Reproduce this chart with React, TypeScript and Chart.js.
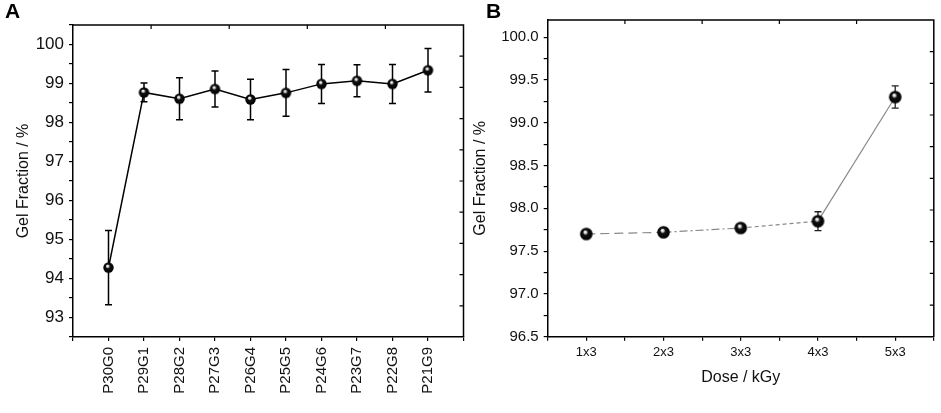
import React, { useEffect, useRef } from 'react';
import { Chart, registerables } from 'chart.js';

Chart.register(...registerables);

// ---------- Data ----------
const catsA = ['P30G0', 'P29G1', 'P28G2', 'P27G3', 'P26G4', 'P25G5', 'P24G6', 'P23G7', 'P22G8', 'P21G9'];
const valsA = [94.28, 98.77, 98.61, 98.86, 98.59, 98.76, 98.99, 99.07, 98.99, 99.34];
const errA = [0.95, 0.24, 0.54, 0.46, 0.52, 0.6, 0.5, 0.41, 0.5, 0.56];

const catsB = ['1x3', '2x3', '3x3', '4x3', '5x3'];
const valsB = [97.7, 97.72, 97.77, 97.85, 99.3];
const errB = [0.02, 0.02, 0.03, 0.11, 0.13];

const yTitle = 'Gel Fraction / %';
const xTitleB = 'Dose / kGy';

const FONT = "'Liberation Sans', Arial, Helvetica, sans-serif";

// segment dash styles for panel B
const dashesB: number[][] = [[9, 5], [8, 3, 2, 3], [4, 3], []];

function makeSphere(r: number): HTMLCanvasElement {
  const c = document.createElement('canvas');
  const s = Math.ceil(r * 2 + 2);
  c.width = s;
  c.height = s;
  const ctx = c.getContext('2d')!;
  const cx = s / 2, cy = s / 2;
  const g = ctx.createRadialGradient(cx - r * 0.2, cy - r * 0.35, r * 0.05, cx, cy, r);
  g.addColorStop(0, '#ffffff');
  g.addColorStop(0.2, '#c8c8c8');
  g.addColorStop(0.38, '#111111');
  g.addColorStop(1, '#000000');
  ctx.fillStyle = g;
  ctx.beginPath();
  ctx.arc(cx, cy, r, 0, Math.PI * 2);
  ctx.fill();
  return c;
}

function errorBars(vals: number[], errs: number[], xOff: number, color: string, width: number, cap: number) {
  return {
    id: 'errbars',
    beforeDatasetsDraw(chart: any) {
      const { ctx, scales } = chart;
      const x = scales.x, y = scales.y;
      ctx.save();
      ctx.strokeStyle = color;
      ctx.lineWidth = width;
      vals.forEach((v, i) => {
        const px = x.getPixelForValue(i + xOff);
        const t = y.getPixelForValue(v + errs[i]);
        const b = y.getPixelForValue(v - errs[i]);
        ctx.beginPath();
        ctx.moveTo(px, t);
        ctx.lineTo(px, b);
        ctx.moveTo(px - cap, t);
        ctx.lineTo(px + cap, t);
        ctx.moveTo(px - cap, b);
        ctx.lineTo(px + cap, b);
        ctx.stroke();
      });
      ctx.restore();
    },
  };
}

function frame(topDiv: number, rightDiv: number) {
  return {
    id: 'frame',
    afterDraw(chart: any) {
      const { ctx, chartArea: a } = chart;
      ctx.save();
      ctx.strokeStyle = '#000';
      ctx.lineWidth = 1.5;
      ctx.beginPath();
      ctx.moveTo(a.left, a.top);
      ctx.lineTo(a.right, a.top);
      ctx.lineTo(a.right, a.bottom);
      ctx.stroke();
      ctx.lineWidth = 1.2;
      ctx.beginPath();
      for (let i = 1; i < topDiv; i++) {
        const px = a.left + (i * (a.right - a.left)) / topDiv;
        ctx.moveTo(px, a.top);
        ctx.lineTo(px, a.top + 4);
      }
      for (let i = 1; i < rightDiv; i++) {
        const py = a.top + (i * (a.bottom - a.top)) / rightDiv;
        ctx.moveTo(a.right, py);
        ctx.lineTo(a.right - 4, py);
      }
      ctx.stroke();
      ctx.restore();
    },
  };
}

const isMult = (v: number, m: number) => Math.abs(v / m - Math.round(v / m)) < 1e-6;

const fitX = (h: number) => (s: any) => {
  s.height = h;
  s.paddingLeft = 0;
  s.paddingRight = 0;
};
const fitY = (w: number) => (s: any) => {
  s.width = w;
  s.paddingTop = 0;
  s.paddingBottom = 0;
};

function ChartA() {
  const ref = useRef<HTMLCanvasElement>(null);
  useEffect(() => {
    const sphere = makeSphere(5.2);
    const chart = new Chart(ref.current!, {
      type: 'line',
      data: {
        datasets: [
          {
            data: valsA.map((v, i) => ({ x: i, y: v })),
            borderColor: '#000',
            borderWidth: 1.5,
            pointStyle: sphere as any,
            pointRadius: 5,
            fill: false,
            tension: 0,
          },
        ],
      },
      options: {
        animation: false,
        responsive: false,
        events: [],
        layout: { padding: { top: 25, right: 6, left: 0, bottom: 0 } },
        plugins: { legend: { display: false }, tooltip: { enabled: false } },
        scales: {
          x: {
            type: 'linear',
            min: -1,
            max: catsA.length,
            ticks: {
              stepSize: 1,
              autoSkip: false,
              minRotation: 90,
              maxRotation: 90,
              padding: 6,
              color: '#111',
              font: { family: FONT, size: 15 },
              callback: (v: any) => {
                const n = Number(v);
                return Number.isInteger(n) && n >= 0 && n < catsA.length ? catsA[n] : '';
              },
            },
            grid: { drawOnChartArea: false, tickLength: 4, color: '#000', lineWidth: 1.2 },
            border: { color: '#000', width: 1.5 },
            afterFit: fitX(76),
          },
          y: {
            type: 'linear',
            min: 92.5,
            max: 100.5,
            ticks: {
              stepSize: 0.5,
              autoSkip: false,
              padding: 5,
              color: '#111',
              font: { family: FONT, size: 17 },
              callback: (v: any) => (isMult(Number(v), 1) ? String(Math.round(Number(v))) : ''),
            },
            grid: { drawOnChartArea: false, tickLength: 4, color: '#000', lineWidth: 1.2 },
            border: { color: '#000', width: 1.5 },
            title: {
              display: true,
              text: yTitle,
              color: '#111',
              font: { family: FONT, size: 16 },
              padding: { top: 14, bottom: 0 },
            },
            afterFit: fitY(73),
          },
        },
      },
      plugins: [errorBars(valsA, errA, 0, '#000', 1.5, 3.5), frame(5, 10)],
    });
    return () => chart.destroy();
  }, []);
  return <canvas ref={ref} width={470} height={413} style={{ position: 'absolute', left: 0, top: 0, width: 470, height: 413 }} />;
}

function ChartB() {
  const ref = useRef<HTMLCanvasElement>(null);
  useEffect(() => {
    const sphere = makeSphere(6.3);
    const chart = new Chart(ref.current!, {
      type: 'line',
      data: {
        datasets: [
          {
            data: valsB.map((v, i) => ({ x: i + 1, y: v })),
            borderColor: '#8a8a8a',
            borderWidth: 1.2,
            pointStyle: sphere as any,
            pointRadius: 6,
            fill: false,
            tension: 0,
            segment: {
              borderDash: (ctx: any) => dashesB[ctx.p0DataIndex] || [],
            },
          } as any,
        ],
      },
      options: {
        animation: false,
        responsive: false,
        events: [],
        layout: { padding: { top: 20, right: 4, left: 0, bottom: 0 } },
        plugins: { legend: { display: false }, tooltip: { enabled: false } },
        scales: {
          x: {
            type: 'linear',
            min: 0.5,
            max: catsB.length + 0.5,
            ticks: {
              stepSize: 0.5,
              autoSkip: false,
              maxRotation: 0,
              minRotation: 0,
              padding: 4,
              color: '#111',
              font: { family: FONT, size: 13 },
              callback: (v: any) => {
                const n = Number(v);
                return Number.isInteger(n) && n >= 1 && n <= catsB.length ? catsB[n - 1] : '';
              },
            },
            grid: { drawOnChartArea: false, tickLength: 4, color: '#000', lineWidth: 1.2 },
            border: { color: '#000', width: 1.5 },
            title: {
              display: true,
              text: xTitleB,
              color: '#111',
              font: { family: FONT, size: 16 },
              padding: { top: 0, bottom: 26 },
            },
            afterFit: fitX(76.3),
          },
          y: {
            type: 'linear',
            min: 96.5,
            max: 100.2,
            ticks: {
              stepSize: 0.25,
              includeBounds: false,
              autoSkip: false,
              padding: 5,
              color: '#111',
              font: { family: FONT, size: 15 },
              callback: (v: any) => (isMult(Number(v), 0.5) ? Number(v).toFixed(1) : ''),
            },
            grid: { drawOnChartArea: false, tickLength: 4, color: '#000', lineWidth: 1.2 },
            border: { color: '#000', width: 1.5 },
            title: {
              display: true,
              text: yTitle,
              color: '#111',
              font: { family: FONT, size: 16 },
              padding: { top: 0.5, bottom: 0 },
            },
            afterFit: fitY(77.7),
          },
        },
      },
      plugins: [errorBars(valsB, errB, 1, '#222', 1.3, 3.5), frame(5, 10)],
    });
    return () => chart.destroy();
  }, []);
  return <canvas ref={ref} width={471} height={413} style={{ position: 'absolute', left: 470, top: 0, width: 471, height: 413 }} />;
}

export default function App() {
  const letter: React.CSSProperties = {
    position: 'absolute',
    top: 0,
    fontFamily: FONT,
    fontWeight: 'bold',
    fontSize: 21,
    lineHeight: 1,
    color: '#000',
  };
  return (
    <div style={{ position: 'fixed', left: 0, top: 0, width: 941, height: 413, background: '#fff', overflow: 'hidden' }}>
      <ChartA />
      <ChartB />
      <div style={{ ...letter, left: 5 }}>A</div>
      <div style={{ ...letter, left: 486 }}>B</div>
    </div>
  );
}
